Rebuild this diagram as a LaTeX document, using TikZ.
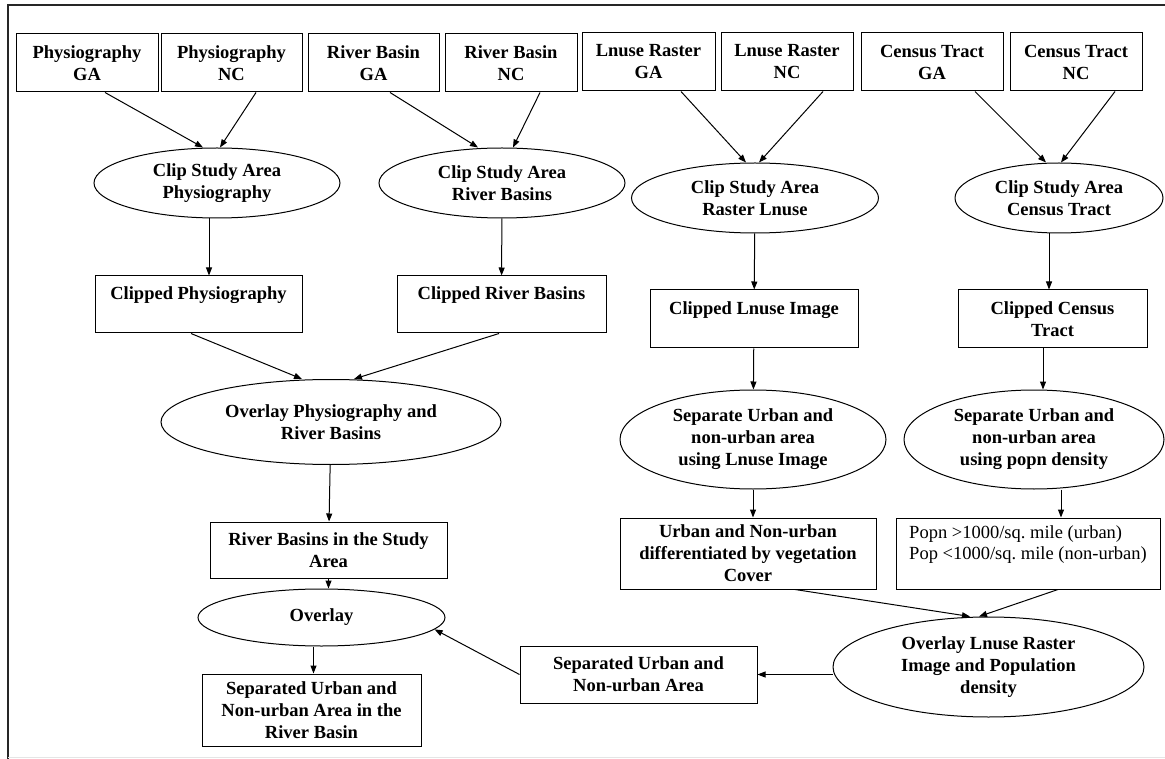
\documentclass[tikz,border=0pt]{standalone}
\usepackage{fontspec}
\setmainfont{Liberation Serif}
\usetikzlibrary{shapes.geometric, arrows.meta}
\frenchspacing

\begin{document}
\begin{tikzpicture}[
  x=1pt, y=-1pt,
  every node/.style={font=\fontsize{18.5}{22}\selectfont\bfseries, align=center, inner sep=0pt},
  box/.style={rectangle, draw, line width=1pt},
  proc/.style={ellipse, draw, line width=1pt},
  arrow/.style={line width=1pt, -{Triangle[length=8pt, width=6pt]}}
]
  \useasboundingbox (0,0) rectangle (1165,759);
  \draw[line width=1.5pt, black!85] (8,759) -- (8,5) -- (1165,5);
  \draw[line width=1pt, black!10] (8,757) -- (1165,757);

  \node[box, minimum width=142, minimum height=58] (pga) at (87,63) {Physiography\\GA};
  \node[box, minimum width=141, minimum height=58] (pnc) at (231.5,63) {Physiography\\NC};
  \node[box, minimum width=131, minimum height=58] (rga) at (373.5,63) {River Basin\\GA};
  \node[box, minimum width=132, minimum height=58] (rnc) at (511,63) {River Basin\\NC};
  \node[box, minimum width=133, minimum height=58] (lga) at (648.5,62) {Lnuse Raster\\GA};
  \node[box, minimum width=132, minimum height=58] (lnc) at (787,62) {Lnuse Raster\\NC};
  \node[box, minimum width=142, minimum height=58] (cga) at (932,62) {Census Tract\\GA};
  \node[box, minimum width=132, minimum height=58] (cnc) at (1076,62) {Census Tract\\NC};

  \node[proc, minimum width=246, minimum height=70] (clipphys) at (217,183) {Clip Study Area\\Physiography};
  \node[proc, minimum width=246, minimum height=70] (cliprb) at (502,183) {Clip Study Area\\River Basins};
  \node[proc, minimum width=247, minimum height=70] (cliplu) at (755,198) {Clip Study Area\\Raster Lnuse};
  \node[proc, minimum width=208, minimum height=70] (clipct) at (1059,198) {Clip Study Area\\Census Tract};

  \node[box, minimum width=207, minimum height=57] (clphys) at (198.5,304.5) {Clipped Physiography\\~};
  \node[box, minimum width=209, minimum height=57] (clrb) at (501.5,304.5) {Clipped River Basins\\~};
  \node[box, minimum width=208, minimum height=58] (cllu) at (754,319) {Clipped Lnuse Image\\~};
  \node[box, minimum width=189, minimum height=58] (clct) at (1052.5,319) {Clipped Census\\Tract};

  \node[proc, minimum width=340, minimum height=85] (ovphys) at (331,422) {Overlay Physiography and\\River Basins};
  \node[box, minimum width=237, minimum height=56] (rbstudy) at (328.5,550) {River Basins in the Study\\Area};
  \node[proc, minimum width=247, minimum height=57] (overlay) at (321.5,617.5) {Overlay};
  \node[box, minimum width=219, minimum height=72] (final) at (311.5,710) {Separated Urban and\\Non-urban Area in the\\River Basin};

  \node[proc, minimum width=266, minimum height=99] (sepurban) at (753,439.5) {Separate Urban and\\non-urban area\\using Lnuse Image};
  \node[proc, minimum width=260, minimum height=99] (seppopn) at (1034,439.5) {Separate Urban and\\non-urban area\\using popn density};
  \node[box, minimum width=256, minimum height=71] (urbveg) at (748,553.5) {Urban and Non-urban\\differentiated by vegetation\\Cover};
  \node[box, minimum width=264, minimum height=71, align=left,
        font=\fontsize{18.5}{21}\selectfont] (popn) at (1028,553.5)
        {Popn >1000/sq. mile (urban)\\Pop <1000/sq. mile (non-urban)\\~};
  \node[proc, minimum width=311, minimum height=100] (ovlu) at (988.5,667) {Overlay Lnuse Raster\\Image and Population\\density};
  \node[box, minimum width=237, minimum height=57] (sepurb) at (638.5,674.5) {Separated Urban and\\Non-urban Area};

  \draw[arrow] ([xshift=18pt]pga.south) -- ([xshift=-14pt]clipphys.north);
  \draw[arrow] ([xshift=24.5pt]pnc.south) -- ([xshift=3pt]clipphys.north);
  \draw[arrow] ([xshift=16.5pt]rga.south) -- ([xshift=-24pt]cliprb.north);
  \draw[arrow] ([xshift=29pt]rnc.south) -- ([xshift=11pt]cliprb.north);
  \draw[arrow] ([xshift=32.5pt]lga.south) -- ([xshift=-9pt]cliplu.north);
  \draw[arrow] ([xshift=36pt]lnc.south) -- ([xshift=4pt]cliplu.north);
  \draw[arrow] ([xshift=43pt]cga.south) -- ([xshift=-13pt]clipct.north);
  \draw[arrow] ([xshift=39pt]cnc.south) -- ([xshift=2pt]clipct.north);

  \draw[arrow] ([xshift=-8pt]clipphys.south) -- ([xshift=-8pt]clipphys.south |- clphys.north);
  \draw[arrow] (cliprb) -- (clrb);
  \draw[arrow] (cliplu) -- (cllu);
  \draw[arrow] ([xshift=-10pt]clipct.south) -- ([xshift=-10pt]clipct.south |- clct.north);

  \draw[arrow] ([xshift=-7.5pt]clphys.south) -- ([xshift=-29pt]ovphys.north);
  \draw[arrow] ([xshift=-2.5pt]clrb.south) -- ([xshift=23pt]ovphys.north);
  \draw[arrow] (ovphys) -- (rbstudy);
  \draw[arrow] (rbstudy.south) -- (rbstudy.south |- overlay.north);
  \draw[arrow] ([xshift=-8pt]overlay.south) -- ([xshift=-8pt]overlay.south |- final.north);

  \draw[arrow] (cllu) -- (sepurban);
  \draw[arrow] ([xshift=-9.5pt]clct.south) -- ([xshift=-9.5pt]clct.south |- seppopn.north);
  \draw[arrow] (sepurban.south) -- (sepurban.south |- urbveg.north);
  \draw[arrow] ([xshift=27pt]seppopn.south) -- ([xshift=27pt]seppopn.south |- popn.north);
  \draw[arrow] ([xshift=47pt]urbveg.south) -- ([xshift=-18.5pt]ovlu.north);
  \draw[arrow] ([xshift=30pt]popn.south) -- ([xshift=-9.5pt]ovlu.north);
  \draw[arrow] (ovlu.west |- sepurb.east) -- (sepurb.east);
  \draw[arrow] (sepurb.west) -- (overlay.-6);
\end{tikzpicture}
\end{document}
